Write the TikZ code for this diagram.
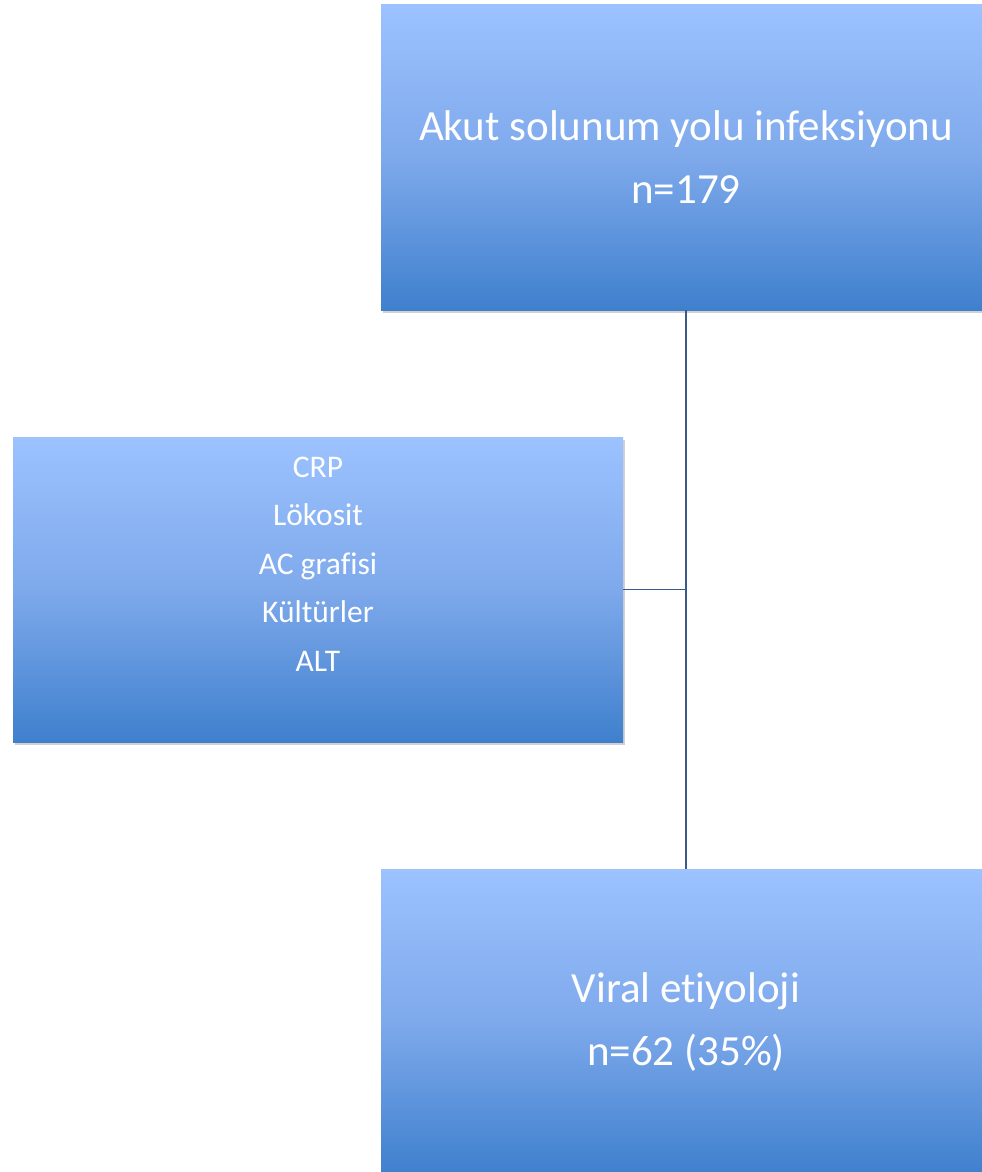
\documentclass[tikz,border=0pt]{standalone}
\usepackage{fontspec}
\setmainfont{Carlito}[Ligatures=NoCommon]
\usetikzlibrary{shadows}
\definecolor{boxtop}{HTML}{9CC2FF}
\definecolor{boxmid}{HTML}{7EA9EB}
\definecolor{boxbot}{HTML}{3F80CD}
\definecolor{linkc}{HTML}{3A5A8A}
\tikzset{
  boxnode/.style={rectangle, minimum width=610pt, minimum height=305pt, inner sep=0pt,
    top color=boxtop, bottom color=boxbot, middle color=boxmid, draw=none,
    drop shadow={shadow xshift=1.5pt, shadow yshift=-3pt, opacity=0.3, fill=black!60}},
  bigtext/.style={text=white, align=center, font=\fontsize{43}{63}\selectfont},
  smalltext/.style={text=white, align=center, font=\fontsize{31.5}{48.5}\selectfont},
  linkline/.style={draw=linkc, line width=1.8pt}
}
\begin{document}
\begin{tikzpicture}[x=1pt,y=-1pt]
\useasboundingbox (0,0) rectangle (982,1172);
\clip (0,0) rectangle (982,1172);
\fill[white] (0,0) rectangle (982,1172);
\node[boxnode] (top) at (686,157.5) {};
\node[bigtext] (toptext) at (686,157) {Akut solunum yolu infeksiyonu\\n=179};
\node[boxnode] (left) at (318,589.5) {};
\node[smalltext] (lefttext) at (318,564) {CRP\\Lökosit\\AC grafisi\\Kültürler\\ALT};
\node[boxnode] (bottom) at (686,1021.5) {};
\node[bigtext] (bottomtext) at (686,1022) {Viral etiyoloji\\n=62 (35\%)};
\coordinate (junction) at (left.east -| top.south);
\draw[linkline] (top.south) -- (bottom.north);
\draw[linkline] (left.east) -- (junction);
\end{tikzpicture}
\end{document}
